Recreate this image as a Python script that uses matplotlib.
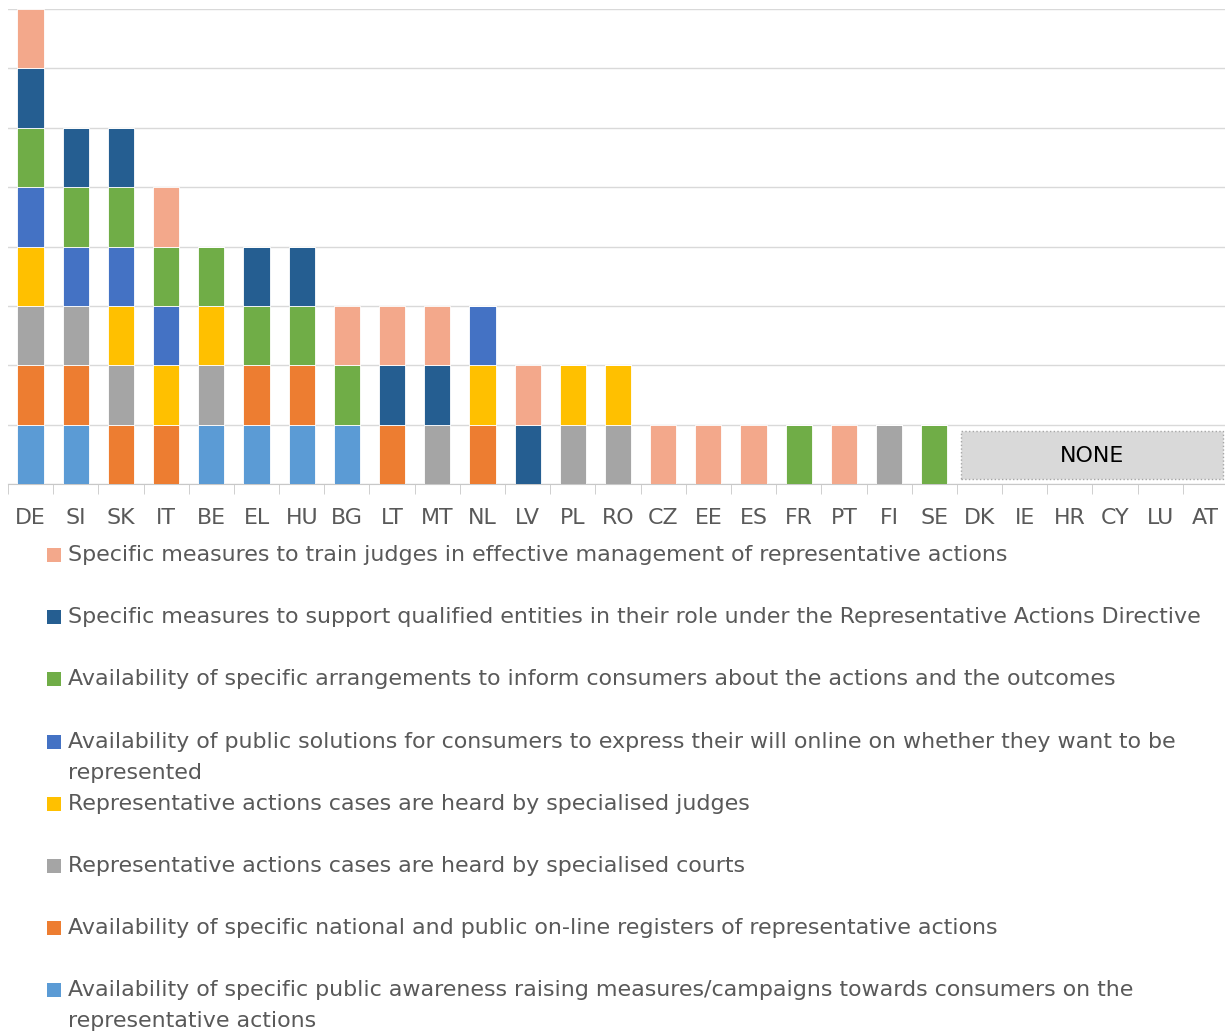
import numpy as np
import matplotlib
matplotlib.use("Agg")
import matplotlib.pyplot as plt
from matplotlib.patches import Rectangle

countries = ["DE", "SI", "SK", "IT", "BE", "EL", "HU", "BG", "LT", "MT", "NL", "LV", "PL", "RO",
             "CZ", "EE", "ES", "FR", "PT", "FI", "SE", "DK", "IE", "HR", "CY", "LU", "AT"]

# one row per measure, stacked bottom -> top
awareness   = [1, 1, 0, 0, 1, 1, 1, 1, 0, 0, 0, 0, 0, 0, 0, 0, 0, 0, 0, 0, 0, 0, 0, 0, 0, 0, 0]
registers   = [1, 1, 1, 1, 0, 1, 1, 0, 1, 0, 1, 0, 0, 0, 0, 0, 0, 0, 0, 0, 0, 0, 0, 0, 0, 0, 0]
courts      = [1, 1, 1, 0, 1, 0, 0, 0, 0, 1, 0, 0, 1, 1, 0, 0, 0, 0, 0, 1, 0, 0, 0, 0, 0, 0, 0]
judges      = [1, 0, 1, 1, 1, 0, 0, 0, 0, 0, 1, 0, 1, 1, 0, 0, 0, 0, 0, 0, 0, 0, 0, 0, 0, 0, 0]
online      = [1, 1, 1, 1, 0, 0, 0, 0, 0, 0, 1, 0, 0, 0, 0, 0, 0, 0, 0, 0, 0, 0, 0, 0, 0, 0, 0]
inform      = [1, 1, 1, 1, 1, 1, 1, 1, 0, 0, 0, 0, 0, 0, 0, 0, 0, 1, 0, 0, 1, 0, 0, 0, 0, 0, 0]
support_qe  = [1, 1, 1, 0, 0, 1, 1, 0, 1, 1, 0, 1, 0, 0, 0, 0, 0, 0, 0, 0, 0, 0, 0, 0, 0, 0, 0]
train       = [1, 0, 0, 1, 0, 0, 0, 1, 1, 1, 0, 1, 0, 0, 1, 1, 1, 0, 1, 0, 0, 0, 0, 0, 0, 0, 0]

series = [awareness, registers, courts, judges, online, inform, support_qe, train]
labels = [
    "Availability of specific public awareness raising measures/campaigns towards consumers on the\nrepresentative actions",
    "Availability of specific national and public on-line registers of representative actions",
    "Representative actions cases are heard by specialised courts",
    "Representative actions cases are heard by specialised judges",
    "Availability of public solutions for consumers to express their will online on whether they want to be\nrepresented",
    "Availability of specific arrangements to inform consumers about the actions and the outcomes",
    "Specific measures to support qualified entities in their role under the Representative Actions Directive",
    "Specific measures to train judges in effective management of representative actions",
]
colors = ["#5B9BD5", "#ED7D31", "#A5A5A5", "#FFC000", "#4472C4", "#70AD47", "#255E91", "#F3A88B"]

W, H = 1225, 1034
fig = plt.figure(figsize=(W / 100, H / 100), dpi=100)
ax = fig.add_axes([8 / W, (H - 484) / H, 1220 / W, 475 / H])

x = np.arange(len(countries))
bottom = np.zeros(len(countries))
for vals, col in zip(series, colors):
    vals = np.array(vals, dtype=float)
    ax.bar(x, vals, bottom=bottom, width=0.58, color=col, edgecolor="white", linewidth=0.6, zorder=3)
    bottom += vals

ax.set_xlim(-0.5, len(countries) - 0.5)
ax.set_ylim(0, 8)
ax.set_yticks(np.arange(0, 9))
ax.yaxis.grid(True, color="#D9D9D9", linewidth=1)
ax.tick_params(axis="y", left=False, labelleft=False)
for s in ["left", "right", "top"]:
    ax.spines[s].set_visible(False)
ax.spines["bottom"].set_color("#C8C8C8")

ax.set_xticks(x)
ax.set_xticklabels(countries, fontsize=15.9, color="#595959")
ax.set_xticks(np.arange(len(countries) + 1) - 0.5, minor=True)
ax.tick_params(axis="x", which="major", length=0, pad=17)
ax.tick_params(axis="x", which="minor", length=7, color="#C8C8C8")

# "NONE" box over the countries with no measures
zero_idx = np.where(bottom == 0)[0]
x0, x1 = zero_idx[0] - 0.42, zero_idx[-1] + 0.38
ax.add_patch(Rectangle((x0, 0.08), x1 - x0, 0.81, facecolor="#D9D9D9", edgecolor="#A6A6A6",
                       linestyle=":", linewidth=1, zorder=4, clip_on=False))
ax.text((x0 + x1) / 2, 0.48, "NONE", ha="center", va="center", fontsize=15.9, color="black", zorder=5)

# legend, reversed order, one entry per row
for i, (lab, col) in enumerate(zip(labels[::-1], colors[::-1])):
    yc = 555 + i * 62.2
    fig.add_artist(Rectangle((47 / W, 1 - (yc + 7) / H), 14 / W, 14 / H,
                             transform=fig.transFigure, facecolor=col, edgecolor="none"))
    for j, line in enumerate(lab.split("\n")):
        fig.text(68 / W, 1 - (yc + j * 31) / H, line, fontsize=15.9, color="#595959",
                 ha="left", va="center")

fig.savefig("out.png", dpi=100)
